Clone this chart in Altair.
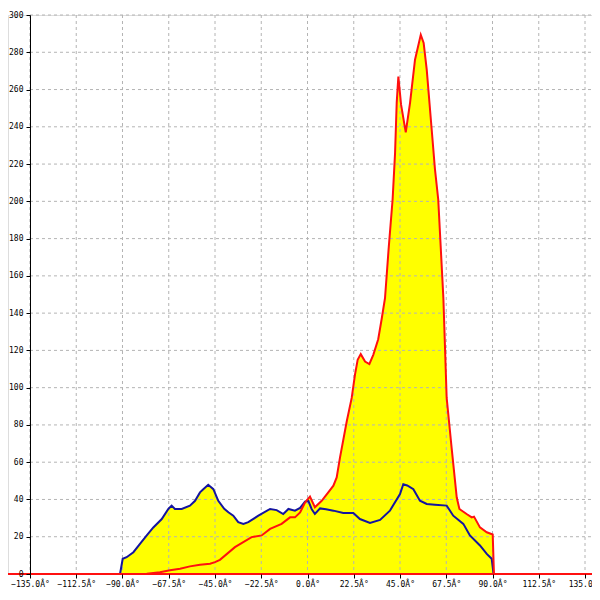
import altair as alt
import pandas as pd

# ---- data ----
red_deg = [-91, -78.2, -71.8, -66.9, -62, -57.2, -52.3, -47.4, -45, -42.6, -35.3, -27.2, -22.3,
           -18.2, -12.6, -8.5, -6.1, -3.6, -1.2, 1.2, 3.6, 6.9, 10.1, 12.6, 14.2, 15.8, 19.1,
           21.5, 23.1, 24.4, 25.9, 28, 30.1, 32, 34.4, 36.1, 37.7, 39.5, 41.4, 42.6, 43.4, 44.2,
           45.5, 47.8, 49.9, 52.3, 55.1, 56.5, 58, 60.4, 62, 63.6, 66.1, 67.7, 70.1, 72.6, 73.9,
           77.4, 79.9, 81, 83.9, 87.2, 90.1, 90.7]
red_val = [0, 0.2, 1, 2, 2.8, 4.1, 5, 5.5, 6.4, 7.6, 14.4, 19.8, 20.7,
           24.2, 26.9, 30.4, 30.4, 33, 38.4, 41.5, 35.8, 39.3, 43.8, 47.4, 51.8, 62.5, 82,
           94.5, 107, 115, 118, 114, 112.7, 117.6, 126, 137, 148, 175, 201, 226, 253, 267,
           252, 237, 253, 276, 289.4, 285, 270.7, 238.7, 217.3, 201, 148, 94.5, 67.8, 41, 34.9,
           32.2, 30.4, 30.8, 25, 22.4, 21.2, 0]

blue_deg = [-91.2, -89.9, -88, -84.7, -81.5, -78.2, -75, -70.9, -67.7, -66.1, -64.5, -61.2,
            -57.2, -54.7, -52.3, -50.7, -48.3, -45.8, -43.4, -40.5, -38.5, -36.1, -33.7, -31.2,
            -28.8, -23.9, -18.2, -15, -11.8, -9.3, -6.1, -3.6, -1.2, 0.4, 2, 3.6, 6.1, 9, 12.6,
            17.4, 22.3, 25.5, 30.4, 35.3, 40.1, 45, 46.6, 48.5, 51.5, 54.7, 58, 62, 67.7, 70.9,
            75.8, 79, 83.9, 87.2, 89.6, 90.5]
blue_val = [0, 8.2, 9, 11.7, 16.2, 20.7, 25, 29.5, 34.9, 36.7, 34.9, 34.9,
            36.7, 39.3, 43.8, 45.5, 47.9, 45.5, 39.3, 35, 33.1, 31.3, 27.8, 26.9,
            27.8, 31.3, 34.9, 34.3, 32.2, 34.9, 34, 35.5, 38.8, 39.3, 34.9, 32.2, 35.2, 34.8, 34,
            32.8, 32.7, 29.5, 27.4, 29, 34, 42.9, 48.2, 47.5, 45.5, 39.3, 37.6, 37.2, 36.7, 31.3,
            26.9, 20.7, 15.3, 10.8, 8.2, 0]

x_ticks = [-135.0, -112.5, -90.0, -67.5, -45.0, -22.5, 0.0, 22.5, 45.0, 67.5, 90.0, 112.5, 135.0]
y_ticks = [0, 20, 40, 60, 80, 100, 120, 140, 160, 180, 200, 220, 240, 260, 280, 300]

X_MIN, X_MAX = -145.7, 138.4
W, H = 584, 559
FONT = "DejaVu Sans Mono"

red = pd.DataFrame({"deg": red_deg, "val": red_val})
blue = pd.DataFrame({"deg": blue_deg, "val": blue_val})
ygrid = pd.DataFrame({"val": y_ticks[1:], "deg": [x_ticks[0]] * (len(y_ticks) - 1)})
xgrid = pd.DataFrame({"deg": x_ticks})

xs = alt.Scale(domain=[X_MIN, X_MAX], nice=False, zero=False)
ys = alt.Scale(domain=[0, 300], nice=False)

x_axis = alt.Axis(values=x_ticks, labelExpr="format(datum.value, '.1f') + 'Â°'",
                  grid=False, domain=False, tickColor="black", tickSize=4,
                  labelFont=FONT, labelFontSize=8, labelColor="black", labelPadding=2,
                  title=None, labelFlush=False, labelOverlap=False, zindex=1)
y_axis = alt.Axis(values=y_ticks, grid=False, offset=-22, domainColor="black",
                  tickColor="black", tickSize=4, labelFont=FONT, labelFontSize=8,
                  labelColor="black", labelPadding=3, title=None, labelFlush=False,
                  labelOverlap=False, zindex=1)

X = alt.X("deg:Q", scale=xs, axis=x_axis)
Y = alt.Y("val:Q", scale=ys, axis=y_axis)

area_red = alt.Chart(red).mark_area(color="#ffff00", opacity=1).encode(x=X, y=Y)
area_blue = alt.Chart(blue).mark_area(color="#ffff00", opacity=1).encode(x=X, y=Y)

grid_h = alt.Chart(ygrid).mark_rule(color="#b4b4b4", strokeDash=[3, 3], strokeWidth=1).encode(
    y=Y, x=X, x2=alt.value(W))
grid_v = alt.Chart(xgrid).mark_rule(color="#b4b4b4", strokeDash=[3, 3], strokeWidth=1).encode(
    x=X, y=alt.value(0), y2=alt.value(H))

line_blue = alt.Chart(blue).mark_line(color="#1414a0", strokeWidth=2).encode(x=X, y=Y)
line_red = alt.Chart(red).mark_line(color="#ff1010", strokeWidth=2).encode(x=X, y=Y)
zero_rule = alt.Chart(xgrid).mark_rule(color="#ff1010", strokeWidth=2).encode(
    y=alt.value(H), x=alt.value(-8), x2=alt.value(W))

chart = alt.layer(area_red, area_blue, grid_h, grid_v, line_blue, line_red, zero_rule).properties(
    width=W, height=H,
    autosize=alt.AutoSizeParams(type="none"),
    padding={"left": 0, "top": 7, "right": 0, "bottom": 14},
).configure_view(stroke=None).configure(background="white")

chart.save("out.html", embed_options={"renderer": "svg", "actions": False})
